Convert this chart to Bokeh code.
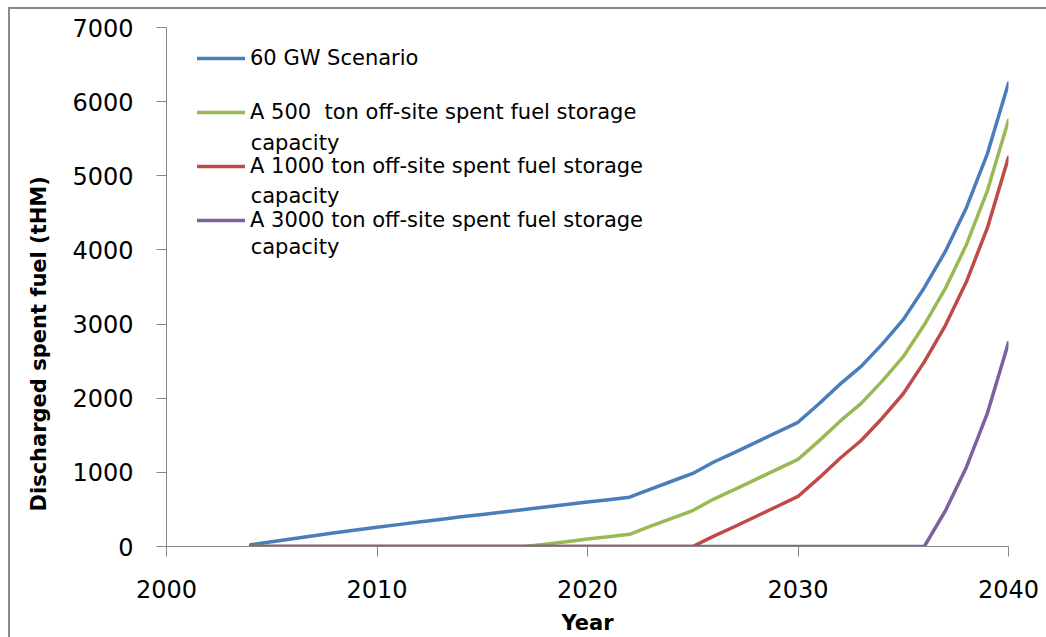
from bokeh.plotting import figure
from bokeh.models import Range1d, FixedTicker, Legend, LegendItem, Label, Title
from bokeh.embed import file_html
from bokeh.resources import INLINE

# ---------------- data ----------------
years = [2004, 2005, 2006, 2007, 2008, 2009, 2010, 2011, 2012, 2013, 2014,
         2015, 2016, 2017, 2018, 2019, 2020, 2021, 2022, 2023, 2024, 2025,
         2026, 2027, 2028, 2029, 2030, 2031, 2032, 2033, 2034, 2035, 2036,
         2037, 2038, 2039, 2040]

gw60_scenario = [25, 65, 105, 145, 185, 222, 260, 295, 330, 365, 400,
                 432, 465, 500, 532, 565, 600, 632, 665, 775, 880, 985,
                 1140, 1270, 1405, 1540, 1675, 1925, 2190, 2430, 2730, 3060, 3490,
                 3980, 4570, 5300, 6250]

offsite_500 = [0, 0, 0, 0, 0, 0, 0, 0, 0, 0, 0,
               0, 0, 0, 32, 65, 100, 132, 165, 275, 380, 485,
               640, 770, 905, 1040, 1175, 1425, 1690, 1930, 2230, 2560, 2990,
               3480, 4070, 4800, 5750]

offsite_1000 = [0, 0, 0, 0, 0, 0, 0, 0, 0, 0, 0,
                0, 0, 0, 0, 0, 0, 0, 0, 0, 0, 0,
                140, 270, 405, 540, 675, 925, 1190, 1430, 1730, 2060, 2490,
                2980, 3570, 4300, 5250]

offsite_3000 = [0, 0, 0, 0, 0, 0, 0, 0, 0, 0, 0,
                0, 0, 0, 0, 0, 0, 0, 0, 0, 0, 0,
                0, 0, 0, 0, 0, 0, 0, 0, 0, 0, 0,
                480, 1070, 1800, 2750]

series_labels = ["60 GW Scenario",
                 "A 500  ton off-site spent fuel storage",
                 "A 1000 ton off-site spent fuel storage",
                 "A 3000 ton off-site spent fuel storage"]
label_second_lines = ["capacity", "capacity", "capacity"]

x_ticks = [2000, 2010, 2020, 2030, 2040]
x_tick_labels = ["2000", "2010", "2020", "2030", "2040"]
y_ticks = [0, 1000, 2000, 3000, 4000, 5000, 6000, 7000]
y_tick_labels = ["0", "1000", "2000", "3000", "4000", "5000", "6000", "7000"]

x_title = "Year"
y_title = "Discharged spent fuel (tHM)"

# ---------------- styling ----------------
colors = ["#4A7EBB", "#98B954", "#BE4B48", "#7D60A0"]
FONT = "DejaVu Sans"
AXIS_GRAY = "#868686"
BORDER_GRAY = "#8a8a8a"

p = figure(width=1046, height=637, output_backend="svg", toolbar_location=None,
           x_range=Range1d(2000, 2040), y_range=Range1d(0, 7000),
           min_border_left=166, min_border_right=38,
           min_border_top=27, min_border_bottom=90)

p.border_fill_color = None
p.background_fill_color = "white"
p.outline_line_color = None
p.xgrid.grid_line_color = None
p.ygrid.grid_line_color = None
# thin grey chart-area border at the top and left, as in the original picture
p.styles = {
    "background-image": f"linear-gradient({BORDER_GRAY},{BORDER_GRAY}), linear-gradient({BORDER_GRAY},{BORDER_GRAY})",
    "background-size": "calc(100% - 8px) 2px, 2px calc(100% - 7px)",
    "background-position": "8px 7px, 8px 7px",
    "background-repeat": "no-repeat",
    "background-color": "white",
}

for ax in (p.xaxis[0], p.yaxis[0]):
    ax.axis_line_color = AXIS_GRAY
    ax.axis_line_width = 1
    ax.major_tick_line_color = AXIS_GRAY
    ax.major_tick_in = 0
    ax.major_tick_out = 10
    ax.minor_tick_line_color = None
    ax.major_label_text_font = FONT
    ax.major_label_text_font_size = "24px"
    ax.major_label_text_color = "#000000"

p.xaxis.ticker = FixedTicker(ticks=x_ticks)
p.xaxis.major_label_overrides = dict(zip(x_ticks, x_tick_labels))
p.xaxis.major_label_standoff = 23
p.xaxis.axis_label = x_title
p.xaxis.axis_label_text_font = FONT
p.xaxis.axis_label_text_font_size = "21px"
p.xaxis.axis_label_text_font_style = "bold"
p.xaxis.axis_label_text_color = "#000000"
p.xaxis.axis_label_standoff = 10

p.yaxis.ticker = FixedTicker(ticks=y_ticks)
p.yaxis.major_label_overrides = dict(zip(y_ticks, y_tick_labels))
p.yaxis.major_label_standoff = 23

# y-axis title, drawn as a left-side title so it can sit below the frame centre
p.add_layout(Title(text=y_title, align="left", offset=35, standoff=38,
                   text_font=FONT, text_font_size="21px", text_font_style="bold",
                   text_color="#000000"), "left")

# ---------------- series ----------------
all_series = [gw60_scenario, offsite_500, offsite_1000, offsite_3000]
renderers = []
for vals, col in zip(all_series, colors):
    r = p.line(years, vals, line_color=col, line_width=3.5, line_join="round", line_cap="round")
    renderers.append(r)

legend = Legend(
    items=[LegendItem(label=lab, renderers=[r]) for lab, r in zip(series_labels, renderers)],
    location=(31, 311), orientation="vertical",
    glyph_width=48, glyph_height=20, label_height=30, label_width=10,
    label_standoff=5, spacing=24, padding=0, margin=0,
    border_line_color=None, background_fill_alpha=0,
    label_text_font=FONT, label_text_font_size="21px", label_text_color="#000000",
)
p.add_layout(legend)

# second lines of the wrapped legend labels
second_line_y = [5438, 4725, 4043]
for txt, yv in zip(label_second_lines, second_line_y):
    p.add_layout(Label(x=2004.0, y=yv, text=txt, text_font=FONT, text_font_size="21px",
                       text_color="#000000", text_align="left", text_baseline="middle"))

open("out.html", "w").write(file_html(p, INLINE))
